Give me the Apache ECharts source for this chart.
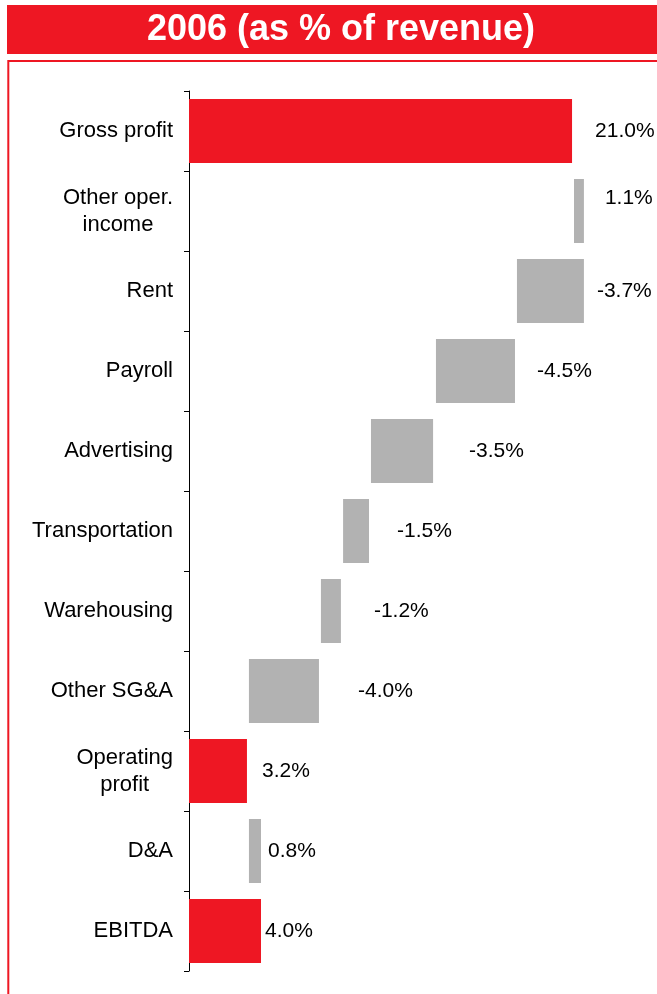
<!DOCTYPE html>
<html>
<head>
<meta charset="utf-8">
<script src="https://cdn.jsdelivr.net/npm/echarts@6/dist/echarts.min.js"></script>
<style>
html,body{margin:0;padding:0;background:#fff;}
#c{width:657px;height:994px;}
</style>
</head>
<body>
<div id="c"></div>
<script>
// ---- data ----
var categories = ['Gross profit', 'Other oper.\nincome', 'Rent', 'Payroll', 'Advertising', 'Transportation', 'Warehousing', 'Other SG&A', 'Operating\nprofit', 'D&A', 'EBITDA'];
var barBase   = [0, 21.39, 18.22, 13.72, 10.11, 8.56, 7.33, 3.33, 0, 3.33, 0];
var barSpan   = [21.28, 0.55, 3.72, 4.39, 3.45, 1.44, 1.11, 3.89, 3.22, 0.67, 4.0];
var valueLabels = ['21.0%', '1.1%', '-3.7%', '-4.5%', '-3.5%', '-1.5%', '-1.2%', '-4.0%', '3.2%', '0.8%', '4.0%'];
var isTotal = [true, false, false, false, false, false, false, false, true, false, true];

// ---- styling ----
var RED = '#EE1723';
var GRAY = '#B2B2B2';
var FONT = '"Liberation Sans", Arial, sans-serif';
var labelGap = [23, 21, 13, 22, 36, 28, 33, 39, 15, 7, 4];
var labelLift = [0, -13, 0, 0, 0, 0, 0, 0, 0, 0, 0];

var chart = echarts.init(document.getElementById('c'), null, {renderer: 'canvas'});

var spanData = barSpan.map(function (v, i) {
  return {
    value: v,
    itemStyle: {color: isTotal[i] ? RED : GRAY},
    label: {distance: labelGap[i], offset: [0, labelLift[i]]}
  };
});

chart.setOption({
  animation: false,
  backgroundColor: '#fff',
  grid: {left: 189, right: 18, top: 91, bottom: 23, containLabel: false},
  xAxis: {type: 'value', min: 0, max: 25, show: false},
  yAxis: {
    type: 'category',
    inverse: true,
    data: categories,
    axisLine: {show: true, lineStyle: {color: '#000', width: 1}},
    axisTick: {show: true, length: 5, lineStyle: {color: '#000', width: 1}},
    axisLabel: {
      margin: 16,
      color: '#000',
      fontSize: 22,
      fontFamily: FONT,
      lineHeight: 27,
      formatter: function (v) {
        if (v.indexOf('\n') < 0) return v;
        return v.split('\n').map(function (s) { return '{ctr|' + s + '}'; }).join('\n');
      },
      rich: {ctr: {align: 'center', fontSize: 22, fontFamily: FONT, color: '#000', lineHeight: 27}}
    }
  },
  series: [
    {
      type: 'bar', stack: 'w', silent: true,
      barCategoryGap: '20%',
      itemStyle: {color: 'transparent'},
      data: barBase
    },
    {
      type: 'bar', stack: 'w',
      barCategoryGap: '20%',
      label: {
        show: true, position: 'right', color: '#000', fontSize: 21, fontFamily: FONT,
        formatter: function (p) { return valueLabels[p.dataIndex]; }
      },
      data: spanData
    }
  ],
  graphic: [
    {type: 'rect', shape: {x: 7, y: 5, width: 660, height: 49}, style: {fill: RED}, silent: true},
    {type: 'text', x: 341, y: 30, style: {text: '2006 (as % of revenue)', fill: '#fff', font: 'bold 36px ' + FONT, textAlign: 'center', textVerticalAlign: 'middle'}, silent: true},
    {type: 'rect', shape: {x: 8.3, y: 61, width: 720, height: 1000}, style: {fill: 'none', stroke: RED, lineWidth: 2}, silent: true}
  ]
});
</script>
</body>
</html>
